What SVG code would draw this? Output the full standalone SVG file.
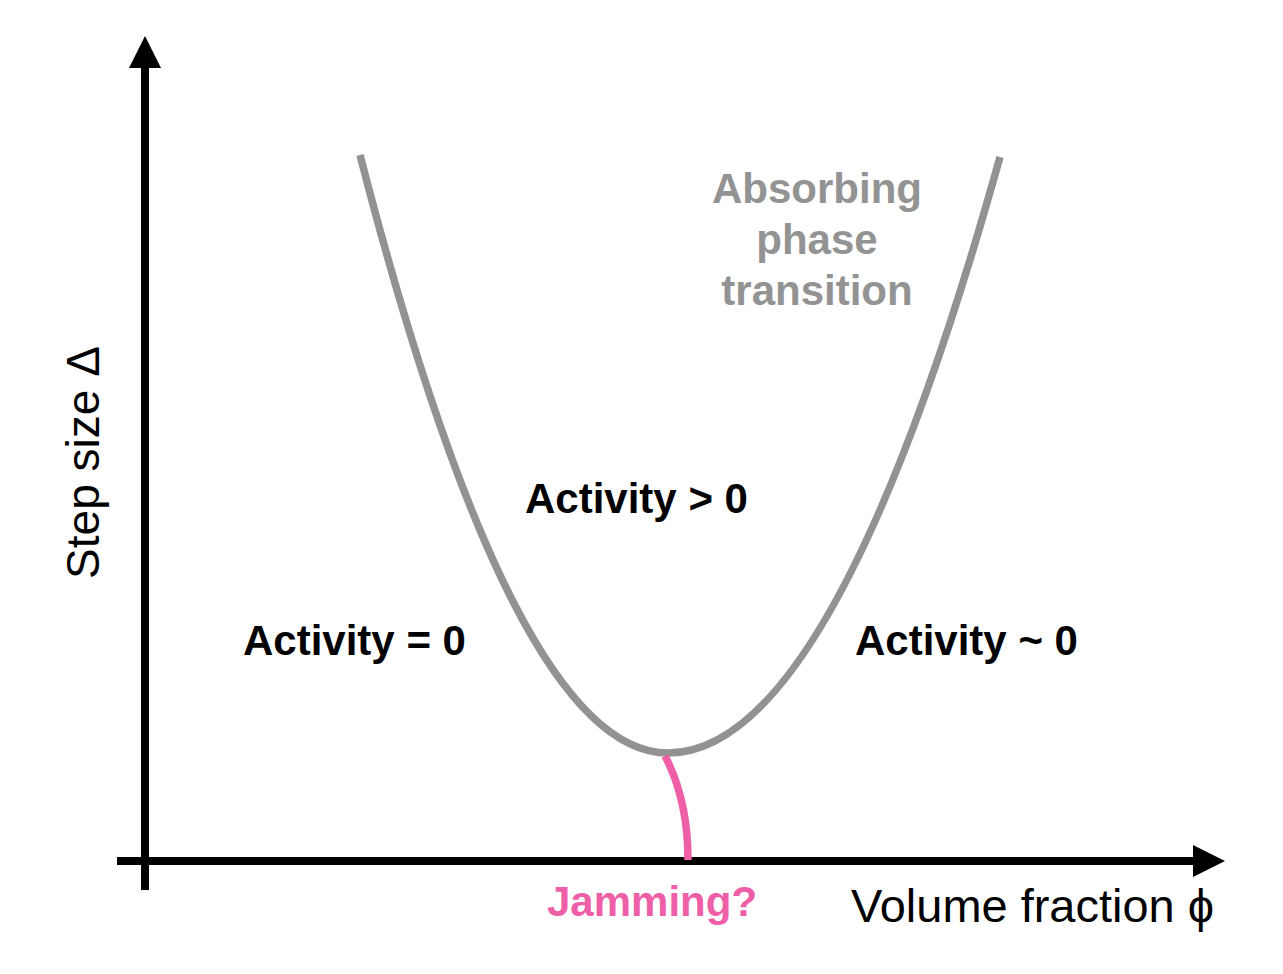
<svg xmlns="http://www.w3.org/2000/svg" width="1283" height="974" viewBox="0 0 1283 974">
<style>
.lbl{font-family:"Liberation Sans",Arial,sans-serif;font-weight:bold;font-size:42px;fill:#000}
.ax{font-family:"Liberation Sans",Arial,sans-serif;font-size:46px;fill:#000}
.gray{fill:#939393}
.pink{fill:#EE5FA8}
</style>
<defs>
<marker id="ah" markerUnits="userSpaceOnUse" markerWidth="32" markerHeight="32" viewBox="0 0 32 32" refX="0" refY="16" orient="auto">
<path d="M0,0 L32,16 L0,32 Z" fill="#000"/>
</marker>
</defs>
<rect width="1283" height="974" fill="#fff"/>
<g id="axes">
<line x1="145" y1="890" x2="145" y2="68" stroke="#000" stroke-width="8" marker-end="url(#ah)"/>
<line x1="117" y1="861" x2="1193" y2="861" stroke="#000" stroke-width="8" marker-end="url(#ah)"/>
</g>
<g id="connectors">
<path id="absorbing-curve" d="M360,155 Q514,753 668,753 Q834,753 1000,157" fill="none" stroke="#929292" stroke-width="7.5"/>
<path id="jamming-curve" d="M665,756 Q688,800 688,860" fill="none" stroke="#EE5FA8" stroke-width="7.5"/>
</g>
<g id="label-absorbing">
<text class="lbl gray" text-anchor="middle" x="817" y="203">Absorbing</text>
<text class="lbl gray" text-anchor="middle" x="817" y="254">phase</text>
<text class="lbl gray" text-anchor="middle" x="817" y="305">transition</text>
</g>
<g id="label-active"><text class="lbl" x="525" y="513">Activity &gt; 0</text></g>
<g id="label-zero"><text class="lbl" x="243" y="655">Activity = 0</text></g>
<g id="label-approx"><text class="lbl" x="855" y="655">Activity ~ 0</text></g>
<g id="label-jamming"><text class="lbl pink" x="547" y="916">Jamming?</text></g>
<g id="label-x"><text class="ax" x="851" y="922" textLength="363" lengthAdjust="spacingAndGlyphs">Volume fraction ϕ</text></g>
<g id="label-y"><text class="ax" transform="translate(99,579) rotate(-90)" x="0" y="0" textLength="233" lengthAdjust="spacingAndGlyphs">Step size Δ</text></g>
</svg>
